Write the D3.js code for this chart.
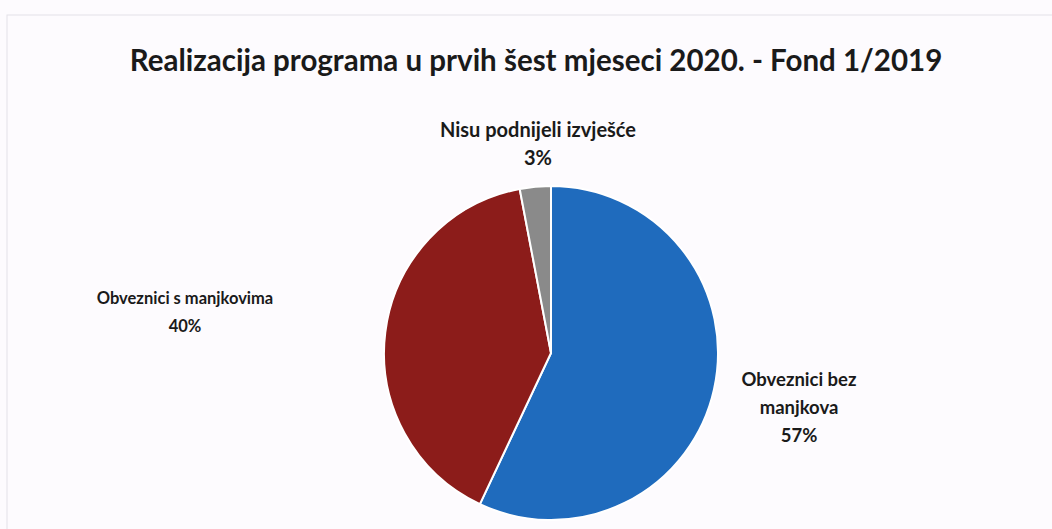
<meta charset="utf-8">
<html>
<script src="https://cdnjs.cloudflare.com/ajax/libs/d3/7.8.5/d3.min.js"></script>
<style>
body { margin: 0; background: #fdfbfe; font-family: Lato, "Open Sans", sans-serif; }
svg text { font-weight: bold; fill: #1a1a1a; }
</style>
<body>
<svg id="chart" width="1052" height="529"></svg>
<script type="text/javascript">

// chart data
var title = "Realizacija programa u prvih šest mjeseci 2020. - Fond 1/2019";
var categories = ["Obveznici bez manjkova", "Obveznici s manjkovima", "Nisu podnijeli izvješće"];
var shares = [57, 40, 3];
var sliceColors = ["#1f6bbd", "#8c1c1a", "#8a8a8a"];
// label lines, split as in the picture
var labelLines = [["Obveznici bez", "manjkova"], ["Obveznici s manjkovima"], ["Nisu podnijeli izvješće"]];

var svg = d3.select("#chart");
var cx = 551, cy = 353, radius = 167;

// faint scan border
svg.append("rect").attr("x", 7).attr("y", 15).attr("width", 1060).attr("height", 530)
	.attr("fill", "none").attr("stroke", "#e4e2e8").attr("stroke-width", 1);

svg.append("text")
	.attr("x", 536).attr("y", 71)
	.attr("text-anchor", "middle")
	.style("font-size", "29.5px")
	.text(title);

var pie = d3.pie().sort(null).value(function(d) { return d; });
var arc = d3.arc().innerRadius(0).outerRadius(radius);
var arcs = pie(shares);

var g = svg.append("g").attr("transform", "translate(" + cx + "," + cy + ")");

g.selectAll("path")
	.data(arcs)
	.enter()
	.append("path")
	.attr("d", arc)
	.attr("fill", function(d, i) { return sliceColors[i]; })
	.attr("stroke", "#ffffff")
	.attr("stroke-width", 2);

// label anchor positions relative to pie centre (centre of first line), sizes vary in the scan
var labelPos = [[248, 33], [-366, -49], [-13, -216]];
var labelSize = [18.5, 16.5, 20];
var lineH = 28;

arcs.forEach(function(d, i) {
	var lines = labelLines[i].concat([Math.round(shares[i]) + "%"]);
	var t = g.append("text")
		.attr("text-anchor", "middle")
		.style("font-size", labelSize[i] + "px");
	lines.forEach(function(s, j) {
		t.append("tspan")
			.attr("x", labelPos[i][0])
			.attr("y", labelPos[i][1] + j * lineH)
			.text(s);
	});
});

</script>
</body>
</html>
